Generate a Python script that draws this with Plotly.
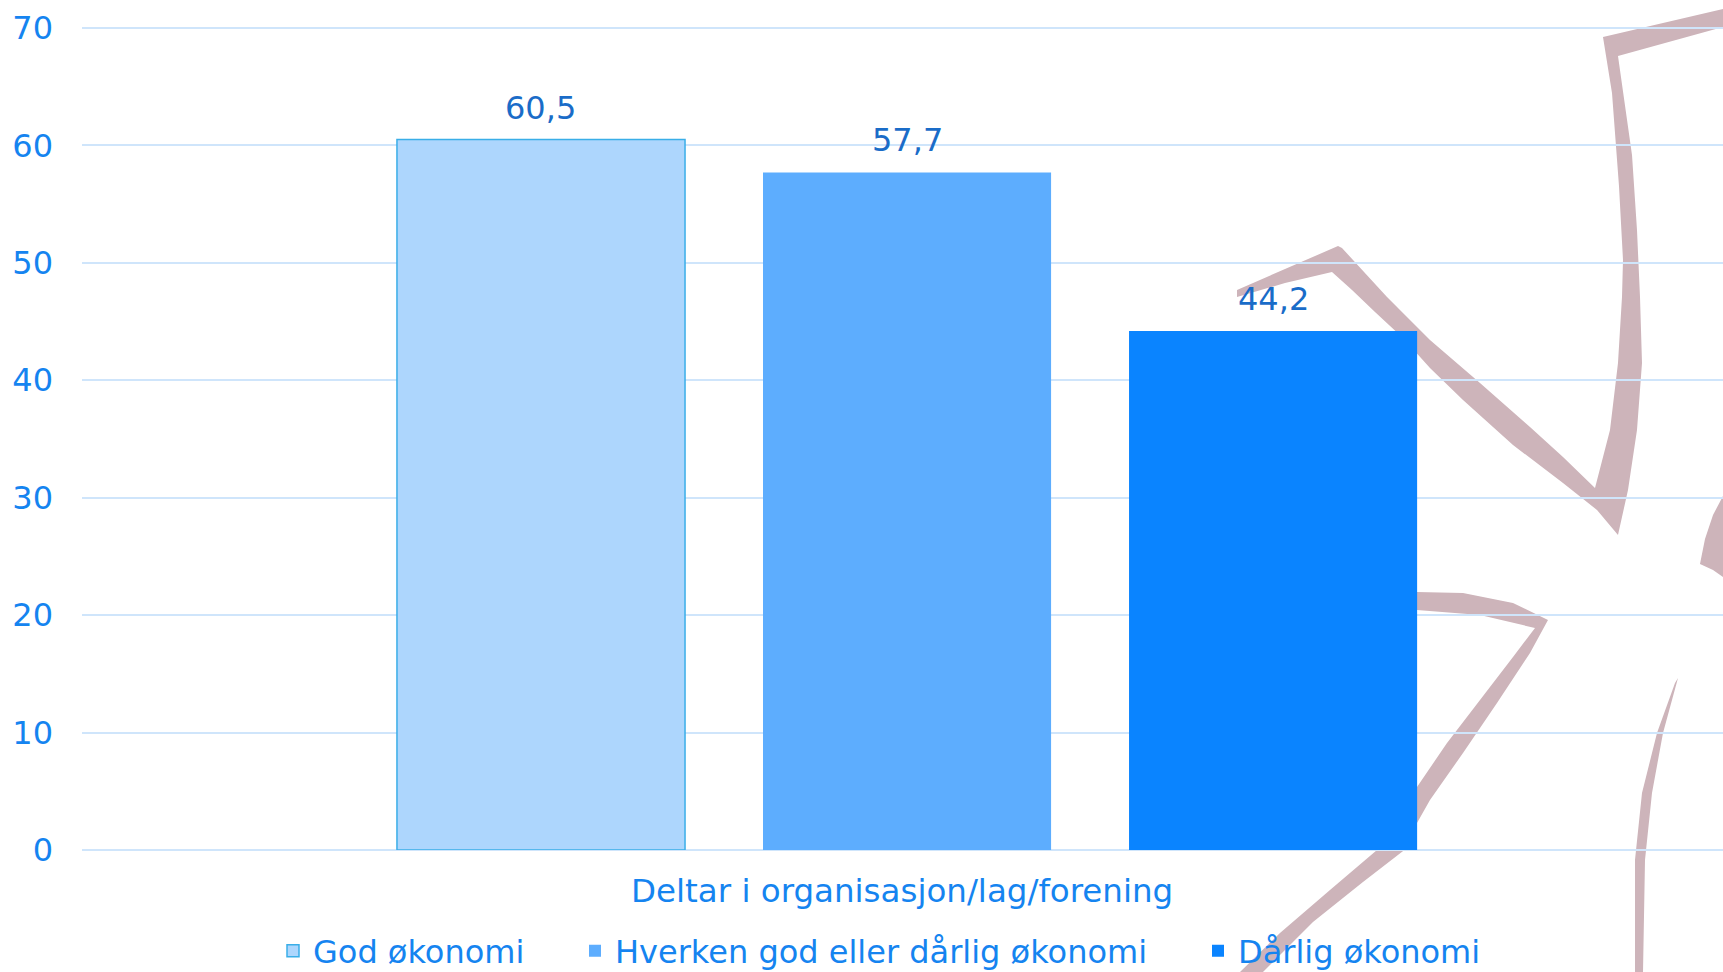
import plotly.graph_objects as go

# ---- data ----
categories = ["Deltar i organisasjon/lag/forening"]
series_names = ["God økonomi", "Hverken god eller dårlig økonomi", "Dårlig økonomi"]
values = [60.5, 57.7, 44.2]
y_ticks = [0, 10, 20, 30, 40, 50, 60, 70]

# ---- style ----
bar_colors = ["#ADD6FD", "#5DADFE", "#0A84FF"]
bar_lines = ["#3AAEE8", "#5DADFE", "#0A84FF"]
bar_line_w = [1.5, 0, 0]
FONT = "DejaVu Sans"
tick_color = "#1584F0"
label_color = "#1A6CC8"
grid_color = "#CFE5FB"

W, H = 1723, 972
L, R, T, B = 82, 0, 24, 122
BARGAP, GROUPGAP = 0.3345, 0.213
XRANGE = [-0.5, 0.4945]
YRANGE = [0, 70.34]


def fmt(v):
    return f"{v:.1f}".replace(".", ",")


legend_ids = ["legend", "legend2", "legend3"]
legend_x_px = [273, 575, 1198]   # left edge of each legend box

fig = go.Figure()
for name, v, c, lc, lw, lid in zip(series_names, values, bar_colors, bar_lines, bar_line_w, legend_ids):
    fig.add_trace(go.Bar(
        x=categories, y=[v], name=name, legend=lid,
        marker=dict(color=c, line=dict(color=lc, width=lw)),
        cliponaxis=False,
    ))

# data labels above each bar
pw, ph = W - L - R, H - T - B
cat_px = pw / (XRANGE[1] - XRANGE[0])
slot_px = cat_px * (1 - BARGAP) / len(values)
annotations = []
for i, v in enumerate(values):
    annotations.append(dict(
        x=categories[0], y=v, xref="x", yref="y", text=fmt(v), showarrow=False,
        xshift=(i - (len(values) - 1) / 2) * slot_px, yanchor="bottom", yshift=11,
        font=dict(family=FONT, size=32, color=label_color),
    ))
# category label under the axis
annotations.append(dict(
    x=categories[0], y=0, xref="x", yref="paper", text=categories[0], showarrow=False,
    xshift=-5, yshift=-41, yanchor="middle",
    font=dict(family=FONT, size=32.5, color=tick_color),
))


# ---- decorative background ornament (pixel coords -> paper coords) ----
def path(pts):
    s = ""
    for i, (px, py) in enumerate(pts):
        x = (px - L) / pw
        y = (H - B - py) / ph
        s += ("M" if i == 0 else "L") + f"{x:.5f},{y:.5f} "
    return s + "Z"


ornaments = [
    [(1723, 9), (1603, 37), (1612, 93), (1619, 186), (1623, 260), (1622, 297),
     (1618, 363), (1610, 430), (1595, 488), (1563, 457), (1530, 427), (1480, 383),
     (1430, 340), (1387, 297), (1342, 248), (1338, 246), (1237, 290),
     (1237, 297), (1285, 283), (1332, 272), (1352, 290), (1375, 312), (1403, 338),
     (1430, 368), (1463, 400), (1513, 445), (1563, 483), (1597, 510), (1618, 535),
     (1628, 490), (1637, 430), (1642, 363), (1640, 297), (1637, 230), (1632, 155),
     (1618, 56), (1723, 27)],
    [(1380, 590), (1417, 592), (1463, 593), (1513, 603), (1548, 620), (1530, 653),
     (1497, 703), (1463, 753), (1430, 800), (1417, 823), (1407, 848), (1363, 882),
     (1313, 922), (1263, 972), (1240, 972), (1280, 933), (1330, 890), (1377, 850),
     (1417, 787), (1447, 743), (1480, 700), (1513, 657), (1535, 628), (1480, 615),
     (1417, 610), (1380, 609)],
    [(1723, 496), (1713, 515), (1705, 539), (1700, 564), (1713, 570), (1723, 577)],
    [(1678, 678), (1663, 733), (1652, 793), (1645, 860), (1643, 972), (1635, 972),
     (1635, 860), (1642, 793), (1657, 733), (1675, 683)],
]
shapes = [dict(type="path", xref="paper", yref="paper", path=path(p),
               fillcolor="#CDB4BA", line=dict(width=0), layer="below")
          for p in ornaments]

legend_common = dict(orientation="h", xref="container", yref="container", xanchor="left",
                     y=(H - 951) / H, yanchor="middle", bgcolor="rgba(0,0,0,0)",
                     font=dict(family=FONT, size=32, color=tick_color), itemclick=False)
legends = {lid: dict(legend_common, x=lx / W) for lid, lx in zip(legend_ids, legend_x_px)}

fig.update_layout(
    width=W, height=H, autosize=False,
    margin=dict(l=L, r=R, t=T, b=B, pad=0, autoexpand=False),
    paper_bgcolor="white", plot_bgcolor="rgba(0,0,0,0)",
    barmode="group", bargap=BARGAP, bargroupgap=GROUPGAP,
    separators=", ",
    font=dict(family=FONT, size=32, color=tick_color),
    shapes=shapes, annotations=annotations,
    showlegend=True,
    xaxis=dict(type="category", range=XRANGE, showgrid=False, zeroline=False, automargin=False,
               showline=False, ticks="", showticklabels=False),
    yaxis=dict(range=YRANGE, tickvals=y_ticks, showgrid=True, gridcolor=grid_color,
               gridwidth=1.5, zeroline=True, zerolinecolor=grid_color, zerolinewidth=1.5,
               automargin=False, showline=False, ticks="",
               tickfont=dict(family=FONT, size=32, color=tick_color), ticklabelstandoff=28),
    **legends,
)

fig.write_html("out.html", config={"displayModeBar": False},
               post_script="document.body.style.margin='0';document.body.style.overflow='hidden';")
